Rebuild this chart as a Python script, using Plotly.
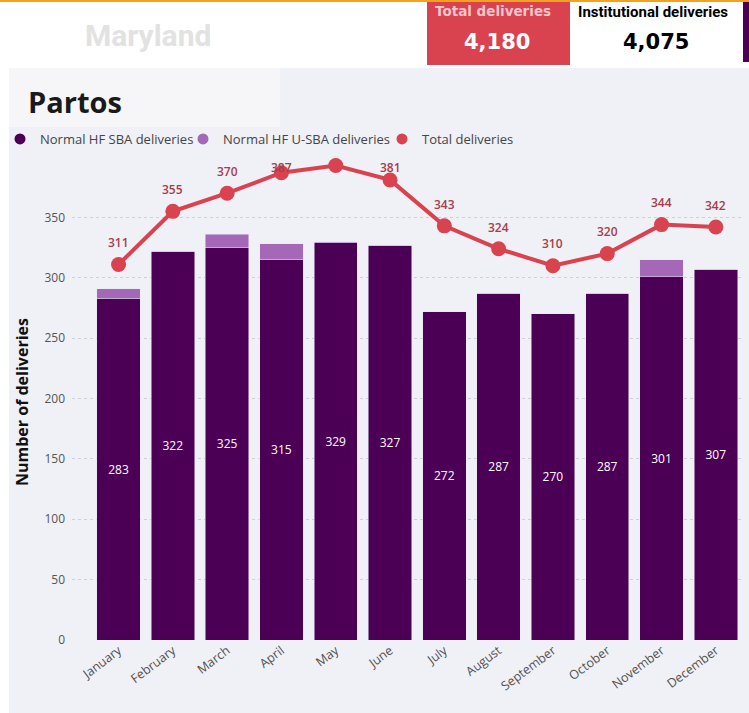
import plotly.graph_objects as go

months = ["January", "February", "March", "April", "May", "June", "July",
          "August", "September", "October", "November", "December"]
sba = [283, 322, 325, 315, 329, 327, 272, 287, 270, 287, 301, 307]
usba = [8, 0, 11, 13, 1, 0, 0, 0, 0, 0, 14, 0]
total = [311, 355, 370, 387, 393, 381, 343, 324, 310, 320, 344, 342]
kpi_total = "4,180"
kpi_inst = "4,075"

W, H = 749, 713
L, R, T, B = 72, 6, 157, 73
PW, PH = W - L - R, H - T - B

def px(x):
    return (x - L) / PW

def py(y):
    return (H - B - y) / PH

DARK = "#4b0055"
LIGHT = "#a567b8"
RED = "#d9434f"
PANEL = "#f0f0f7"
FONT = "Open Sans"

fig = go.Figure()
fig.add_trace(go.Bar(x=months, y=sba, name="Normal HF SBA deliveries", marker_color=DARK,
                     text=sba, texttemplate="%{text}", textposition="inside",
                     insidetextanchor="middle", textfont=dict(color="white", size=12, family=FONT),
                     showlegend=False))
fig.add_trace(go.Bar(x=months, y=usba, name="Normal HF U-SBA deliveries", marker_color=LIGHT,
                     showlegend=False))
fig.add_trace(go.Scatter(x=months, y=total, name="Total deliveries", mode="lines+markers",
                         line=dict(color=RED, width=4), marker=dict(size=15, color=RED),
                         showlegend=False))
for nm, c, lg in [("Normal HF SBA deliveries", DARK, "legend"),
                  ("Normal HF U-SBA deliveries", LIGHT, "legend2"),
                  ("Total deliveries", RED, "legend3")]:
    fig.add_trace(go.Scatter(x=[None], y=[None], mode="markers", name=nm, legend=lg,
                             marker=dict(size=11, color=c, symbol="circle")))

ann = []
for m, v in zip(months, total):
    if v > 390:
        continue
    yl = min(v + 18, 391)
    ann.append(dict(x=m, y=yl, text=str(v), showarrow=False, xref="x", yref="y",
                    xanchor="center", yanchor="middle",
                    font=dict(size=12, color="#a63d48", family=FONT, weight=600)))

shapes = [
    dict(type="rect", xref="paper", yref="paper", x0=px(9), x1=px(749), y0=py(713), y1=py(68),
         fillcolor=PANEL, line_width=0, layer="below"),
    dict(type="rect", xref="paper", yref="paper", x0=px(9), x1=px(280), y0=py(127), y1=py(68),
         fillcolor="#f6f6f9", line_width=0, layer="below"),
    dict(type="rect", xref="paper", yref="paper", x0=px(0), x1=px(749), y0=py(2), y1=py(0),
         fillcolor="#f4a21e", line_width=0, layer="below"),
    dict(type="rect", xref="paper", yref="paper", x0=px(427), x1=px(570), y0=py(65), y1=py(2),
         fillcolor=RED, line_width=0, layer="below"),
    dict(type="rect", xref="paper", yref="paper", x0=px(743), x1=px(749), y0=py(62), y1=py(2),
         fillcolor=DARK, line_width=0, layer="below"),
]

def txt(x, y, s, size, color, family, angle=0, xanchor="center"):
    return dict(xref="paper", yref="paper", x=px(x), y=py(y), text=s, showarrow=False,
                xanchor=xanchor, yanchor="middle", textangle=angle,
                font=dict(size=size, color=color, family=family))

ann += [
    txt(148, 36, "<b>Maryland</b>", 30, "#e2e2e2", "Roboto"),
    txt(493, 11, "<b>Total deliveries</b>", 13.5, "#f3c6cb", "DejaVu Sans"),
    txt(497, 42, "<b>" + kpi_total + "</b>", 21, "white", "DejaVu Sans"),
    txt(653, 12, "<b>Institutional deliveries</b>", 15, "black", "Roboto"),
    txt(656, 42, "<b>" + kpi_inst + "</b>", 21, "black", "DejaVu Sans"),
    txt(26, 102, "<b>Partos</b>", 29, "#1a1a1a", FONT, xanchor="left"),
    txt(22, 402, "<b>Number of deliveries</b>", 16, "#111", FONT, angle=-90),
]

def leg(xpix):
    return dict(orientation="h", xref="container", yref="container", x=xpix / W, y=1 - 139 / H,
                xanchor="left", yanchor="middle", traceorder="normal",
                font=dict(size=13, color="#444", family=FONT), bgcolor="rgba(0,0,0,0)",
                itemwidth=30)

fig.update_layout(
    width=W, height=H, margin=dict(l=L, r=R, t=T, b=B, autoexpand=False),
    barmode="stack", bargap=0.2,
    paper_bgcolor="white", plot_bgcolor="rgba(0,0,0,0)",
    font=dict(family=FONT, color="#555"),
    shapes=shapes, annotations=ann,
    legend=leg(0), legend2=leg(183), legend3=leg(382),
    xaxis=dict(tickangle=-37, tickfont=dict(size=12.5, color="#505050"), showgrid=False,
               showline=False, ticks="", range=[-0.857, 11.5]),
    yaxis=dict(range=[0, 400], tickvals=[0, 50, 100, 150, 200, 250, 300, 350],
               tickfont=dict(size=12, color="#555"), showgrid=True, gridcolor="#cfcfd6",
               griddash="dot", zeroline=False, ticks="", ticklabelstandoff=6),
)

fig.write_html("out.html", config={"displayModeBar": False},
               post_script="document.body.style.margin='0px';")
